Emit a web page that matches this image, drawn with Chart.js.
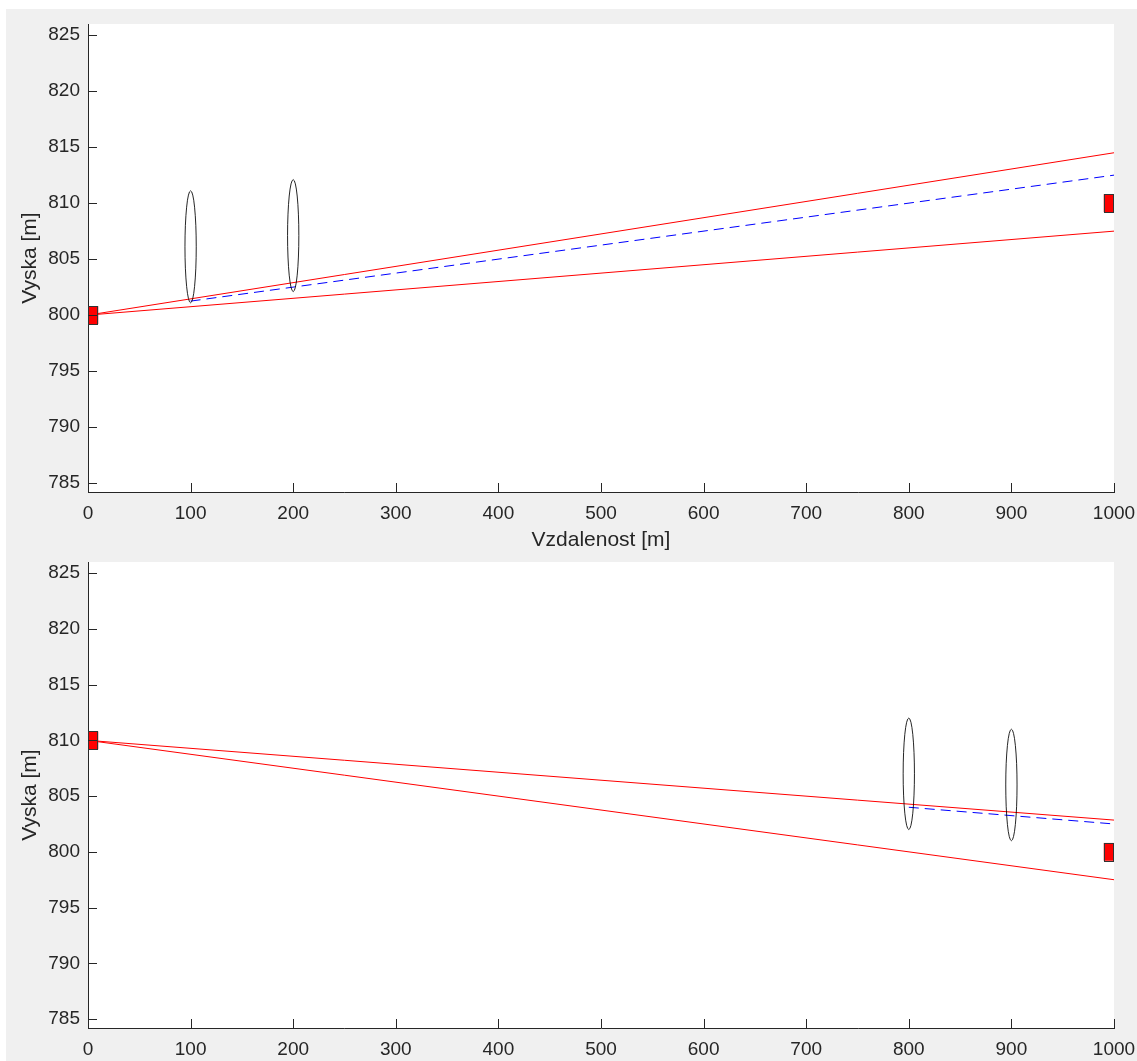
<!DOCTYPE html>
<html>
<head>
<meta charset="utf-8">
<script src="https://cdn.jsdelivr.net/npm/chart.js@4.4.1/dist/chart.umd.min.js"></script>
<style>
  html, body { margin: 0; padding: 0; background: #ffffff; }
  #page { position: relative; width: 1137px; height: 1061px; overflow: hidden; }
  #bg { position: absolute; left: 6px; top: 9px; right: 0; bottom: 0; background: #f0f0f0; }
  canvas { position: absolute; left: 0; }
  #c1 { top: 0; }
  #c2 { top: 540px; }
</style>
</head>
<body>
<div id="page">
  <div id="bg"></div>
  <canvas id="c1" width="1137" height="560"></canvas>
  <canvas id="c2" width="1137" height="521"></canvas>
</div>
<script>
// ---- data ----
const xTicks = [0, 100, 200, 300, 400, 500, 600, 700, 800, 900, 1000];
const yTicks = [785, 790, 795, 800, 805, 810, 815, 820, 825];
const xRange = [0, 1000];
const yRange = [784.2, 826.0];

const lineX = [0, 1000];
// top panel
const topRedUpperY = [800, 814.5];
const topRedLowerY = [800, 807.5];
const topBlueX = [100, 1000];
const topBlueY = [801.25, 812.5];
const topEllipseX = [100, 200];
const topEllipseY = [806.1, 807.1];
const topMarkerY = [800, 810];
// bottom panel
const botRedUpperY = [810, 802.85];
const botRedLowerY = [810, 797.5];
const botBlueX = [800, 1000];
const botBlueY = [804.0, 802.5];
const botEllipseX = [800, 900];
const botEllipseY = [807.0, 806.0];
const botMarkerY = [810, 800];
// marker & ellipse extents (data units)
const markerX0 = [0, 990];
const markerX1 = [10, 1000];
const markerHalfH = 0.8;
const ellipseRX = 5.5;
const ellipseRY = 5.0;

const xLabel = 'Vzdalenost [m]';
const yLabel = 'Vyska [m]';

// ---- styling ----
const TXT = '#262626';
const FONT = 'Liberation Sans, Arial, Helvetica, sans-serif';

function pts(xs, ys) { return xs.map((x, i) => ({ x: x, y: ys[i] })); }

const panelPlugin = {
  id: 'panel',
  beforeDraw(chart) {
    const a = chart.chartArea, ctx = chart.ctx;
    ctx.save();
    ctx.fillStyle = '#ffffff';
    ctx.fillRect(a.left, a.top, a.right - a.left, a.bottom - a.top);
    ctx.restore();
  },
  afterDatasetsDraw(chart, args, opts) {
    const ctx = chart.ctx, xs = chart.scales.x, ys = chart.scales.y, a = chart.chartArea;
    ctx.save();
    ctx.beginPath();
    ctx.rect(a.left, a.top, a.right - a.left, a.bottom - a.top);
    ctx.clip();
    // ellipses
    ctx.strokeStyle = 'rgba(0,0,0,0.85)';
    ctx.lineWidth = 1;
    opts.ellX.forEach((ex, i) => {
      const cx = xs.getPixelForValue(ex), cy = ys.getPixelForValue(opts.ellY[i]);
      const rx = Math.abs(xs.getPixelForValue(ex + ellipseRX) - cx);
      const ry = Math.abs(ys.getPixelForValue(opts.ellY[i] + ellipseRY) - cy);
      ctx.beginPath();
      ctx.ellipse(cx, cy, rx, ry, 0, 0, Math.PI * 2);
      ctx.stroke();
    });
    // markers
    opts.markY.forEach((my, i) => {
      const x0 = xs.getPixelForValue(markerX0[i]), x1 = xs.getPixelForValue(markerX1[i]);
      const y0 = ys.getPixelForValue(my + markerHalfH), y1 = ys.getPixelForValue(my - markerHalfH);
      ctx.fillStyle = '#ff0000';
      ctx.fillRect(x0, y0, x1 - x0, y1 - y0);
      ctx.strokeStyle = '#333333';
      ctx.lineWidth = 1;
      ctx.strokeRect(Math.round(x0) + 0.5, Math.round(y0) + 0.5, Math.round(x1 - x0) - 1, Math.round(y1 - y0));
    });
    ctx.restore();
  },
  afterDraw(chart) {
    // inward tick marks
    const ctx = chart.ctx, xs = chart.scales.x, ys = chart.scales.y, a = chart.chartArea;
    ctx.save();
    ctx.strokeStyle = TXT;
    ctx.lineWidth = 1;
    ctx.beginPath();
    xTicks.forEach(v => {
      const px = Math.round(xs.getPixelForValue(v)) + 0.5;
      ctx.moveTo(px, a.bottom);
      ctx.lineTo(px, a.bottom - 9);
    });
    yTicks.forEach(v => {
      const py = Math.round(ys.getPixelForValue(v)) + 0.5;
      ctx.moveTo(a.left, py);
      ctx.lineTo(a.left + 9, py);
    });
    ctx.stroke();
    ctx.restore();
  }
};

function makeChart(id, cfg) {
  return new Chart(document.getElementById(id), {
    type: 'scatter',
    data: {
      datasets: [
        { data: pts(lineX, cfg.redUpper), showLine: true, borderColor: '#ff0000', borderWidth: 1, pointRadius: 0 },
        { data: pts(lineX, cfg.redLower), showLine: true, borderColor: '#ff0000', borderWidth: 1, pointRadius: 0 },
        { data: pts(cfg.blueX, cfg.blueY), showLine: true, borderColor: '#0000ff', borderWidth: 1, borderDash: [10, 6], pointRadius: 0 }
      ]
    },
    options: {
      responsive: false,
      animation: false,
      devicePixelRatio: 1,
      layout: { padding: { left: 0, top: cfg.padTop, right: 23, bottom: 0 } },
      plugins: {
        legend: { display: false },
        tooltip: { enabled: false },
        panel: { ellX: cfg.ellX, ellY: cfg.ellY, markY: cfg.markY }
      },
      scales: {
        x: {
          type: 'linear',
          min: xRange[0], max: xRange[1],
          afterBuildTicks: s => { s.ticks = xTicks.map(v => ({ value: v })); },
          afterFit: s => { s.height = cfg.xHeight; s.paddingLeft = 0; s.paddingRight = 0; },
          grid: { display: true, drawOnChartArea: false, drawTicks: false },
          border: { display: true, color: TXT, width: 1 },
          ticks: { color: TXT, font: { family: FONT, size: 19 }, padding: 10, maxRotation: 0, autoSkip: false,
                   callback: v => String(v) },
          title: { display: cfg.showXTitle, text: xLabel, color: TXT, font: { family: FONT, size: 21 }, padding: { top: 0, bottom: 7 } }
        },
        y: {
          type: 'linear',
          min: yRange[0], max: yRange[1],
          afterBuildTicks: s => { s.ticks = yTicks.map(v => ({ value: v })); },
          afterFit: s => { s.width = 88; s.paddingTop = 0; s.paddingBottom = 0; },
          grid: { display: true, drawOnChartArea: false, drawTicks: false },
          border: { display: true, color: TXT, width: 1 },
          ticks: { color: TXT, font: { family: FONT, size: 19 }, padding: 8, autoSkip: false,
                   callback: v => String(v) },
          title: { display: true, text: yLabel, color: TXT, font: { family: FONT, size: 21 }, padding: { top: 18, bottom: 0 } }
        }
      }
    },
    plugins: [panelPlugin]
  });
}

makeChart('c1', {
  redUpper: topRedUpperY, redLower: topRedLowerY, blueX: topBlueX, blueY: topBlueY,
  ellX: topEllipseX, ellY: topEllipseY, markY: topMarkerY,
  padTop: 24, xHeight: 68, showXTitle: true
});
makeChart('c2', {
  redUpper: botRedUpperY, redLower: botRedLowerY, blueX: botBlueX, blueY: botBlueY,
  ellX: botEllipseX, ellY: botEllipseY, markY: botMarkerY,
  padTop: 22, xHeight: 33, showXTitle: false
});
</script>
</body>
</html>
